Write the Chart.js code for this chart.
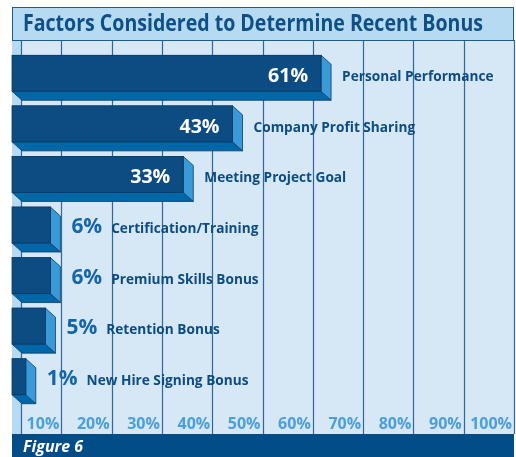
<!DOCTYPE html>
<html>
<head>
<meta charset="utf-8">
<script src="https://cdn.jsdelivr.net/npm/chart.js@4.4.1/dist/chart.umd.min.js"></script>
<style>
    body { margin: 0; background: #ffffff; }
    canvas { display: block; }
</style>
</head>
<body>
<canvas id="bonusChart" width="516" height="457"></canvas>
<script>
const chartTitle = "Factors Considered to Determine Recent Bonus";
const figureLabel = "Figure 6";
const categories = [
    "Personal Performance",
    "Company Profit Sharing",
    "Meeting Project Goal",
    "Certification/Training",
    "Premium Skills Bonus",
    "Retention Bonus",
    "New Hire Signing Bonus"
];
const percentages = [61, 43, 33, 6, 6, 5, 1];
const tickValues = [10, 20, 30, 40, 50, 60, 70, 80, 90, 100];
const tickLabels = ["10%", "20%", "30%", "40%", "50%", "60%", "70%", "80%", "90%", "100%"];

const FONT = "'Open Sans', 'Liberation Sans', sans-serif";
const DEPTH_X = 10;
const DEPTH_Y = 9;

const colors = {
    front: "#0d4c82",
    bottom: "#0067a8",
    side: "#3a9ad8",
    edge: "#0a3c6a",
    plotBg: "#d6e7f6",
    wall: "#b6daf2",
    grid: "#2f689a",
    titleBg: "#b6daf2",
    titleText: "#0e4f88",
    tick: "#4a9fdc",
    footer: "#024c87",
    smallValue: "#1566a8",
    label: "#0d4c82"
};

// draws text squeezed horizontally by scaleX
function drawText(ctx, text, x, y, font, color, align, scaleX) {
    ctx.save();
    ctx.font = font;
    ctx.fillStyle = color;
    ctx.textBaseline = "alphabetic";
    const w = ctx.measureText(text).width * scaleX;
    let left = x;
    if (align === "right") left = x - w;
    ctx.translate(left, y);
    ctx.scale(scaleX, 1);
    ctx.textAlign = "left";
    ctx.fillText(text, 0, 0);
    ctx.restore();
    return w;
}

const framePlugin = {
    id: "frame",
    beforeDatasetsDraw(chart) {
        const ctx = chart.ctx;
        const xs = chart.scales.x;
        const left = 12, right = 515, top = 40, bottom = 434;

        ctx.save();
        ctx.fillStyle = "#ffffff";
        ctx.fillRect(0, 0, chart.width, chart.height);

        ctx.fillStyle = colors.plotBg;
        ctx.fillRect(left, top, right - left, bottom - top);

        const x0 = xs.getPixelForValue(0);
        ctx.fillStyle = colors.wall;
        ctx.fillRect(x0, top, DEPTH_X, bottom - top);

        ctx.strokeStyle = colors.grid;
        ctx.lineWidth = 1.2;
        const lines = [x0 + DEPTH_X].concat(tickValues.map(v => xs.getPixelForValue(v)));
        lines.forEach(px => {
            ctx.beginPath();
            ctx.moveTo(Math.round(px) - 0.5, top);
            ctx.lineTo(Math.round(px) - 0.5, bottom);
            ctx.stroke();
        });

        // tick labels sit right against their grid line
        tickValues.forEach((v, i) => {
            drawText(ctx, tickLabels[i], xs.getPixelForValue(v) - 3, 429,
                "bold 16px " + FONT, colors.tick, "right", 1);
        });

        // title band
        ctx.fillStyle = colors.titleBg;
        ctx.fillRect(left, 7, right - left - 1, top - 7);
        ctx.strokeStyle = "#1d5a8e";
        ctx.lineWidth = 1;
        ctx.strokeRect(left + 0.5, 7.5, right - left - 2, top - 7);

        ctx.font = "bold 23px " + FONT;
        const tw = ctx.measureText(chartTitle).width;
        drawText(ctx, chartTitle, 23, 31, "bold 23px " + FONT, colors.titleText, "left", Math.min(1, 460 / tw));

        // footer band
        ctx.fillStyle = colors.footer;
        ctx.fillRect(left, bottom, right - left - 1, chart.height - bottom);
        drawText(ctx, figureLabel, 23, 452, "italic bold 16px " + FONT, "#ffffff", "left", 1);

        ctx.restore();
    }
};

const barPlugin = {
    id: "bars3d",
    afterDatasetsDraw(chart) {
        const ctx = chart.ctx;
        const meta = chart.getDatasetMeta(0);
        ctx.save();
        ctx.lineWidth = 0.8;
        ctx.strokeStyle = colors.edge;
        meta.data.forEach((bar, i) => {
            const p = bar.getProps(["x", "y", "base", "height"], true);
            const t = p.y - p.height / 2;
            const b = p.y + p.height / 2;

            ctx.beginPath();
            ctx.moveTo(p.base, b);
            ctx.lineTo(p.x, b);
            ctx.lineTo(p.x + DEPTH_X, b + DEPTH_Y);
            ctx.lineTo(p.base + DEPTH_X, b + DEPTH_Y);
            ctx.closePath();
            ctx.fillStyle = colors.bottom;
            ctx.fill();
            ctx.stroke();

            ctx.beginPath();
            ctx.moveTo(p.x, t);
            ctx.lineTo(p.x + DEPTH_X, t + DEPTH_Y);
            ctx.lineTo(p.x + DEPTH_X, b + DEPTH_Y);
            ctx.lineTo(p.x, b);
            ctx.closePath();
            ctx.fillStyle = colors.side;
            ctx.fill();
            ctx.stroke();

            ctx.strokeRect(p.base, t, p.x - p.base, p.height);

            const valueText = percentages[i] + "%";
            const labelFont = "bold 15px " + FONT;
            if (p.x - p.base > 80) {
                drawText(ctx, valueText, p.x - 13, p.y + 9, "bold 20px " + FONT, "#ffffff", "right", 0.98);
                drawText(ctx, categories[i], p.x + DEPTH_X + 11, p.y + 8, labelFont, colors.label, "left", 0.91);
            } else {
                const w = drawText(ctx, valueText, p.x + DEPTH_X + 11, p.y + 8, "bold 22px " + FONT, colors.smallValue, "left", 0.95);
                drawText(ctx, categories[i], p.x + DEPTH_X + 11 + w + 9, p.y + 8, labelFont, colors.label, "left", 0.91);
            }
        });
        ctx.restore();
    }
};

const ctx = document.getElementById("bonusChart").getContext("2d");

const bonusChart = new Chart(ctx, {
    type: "bar",
    data: {
        labels: categories,
        datasets: [{
            data: percentages,
            xAxisID: "bars",
            base: -1.8,
            backgroundColor: colors.front,
            borderWidth: 0,
            barThickness: 36
        }]
    },
    options: {
        indexAxis: "y",
        responsive: false,
        animation: false,
        devicePixelRatio: 1,
        layout: { padding: { left: 12, right: 1, top: 48, bottom: 55 } },
        scales: {
            x: { type: "linear", min: 0, max: 100, display: false },
            bars: { type: "linear", axis: "x", min: -1.8, max: 100.4, display: false },
            y: { display: false }
        },
        plugins: {
            legend: { display: false },
            tooltip: { enabled: false }
        }
    },
    plugins: [framePlugin, barPlugin]
});
</script>
</body>
</html>
